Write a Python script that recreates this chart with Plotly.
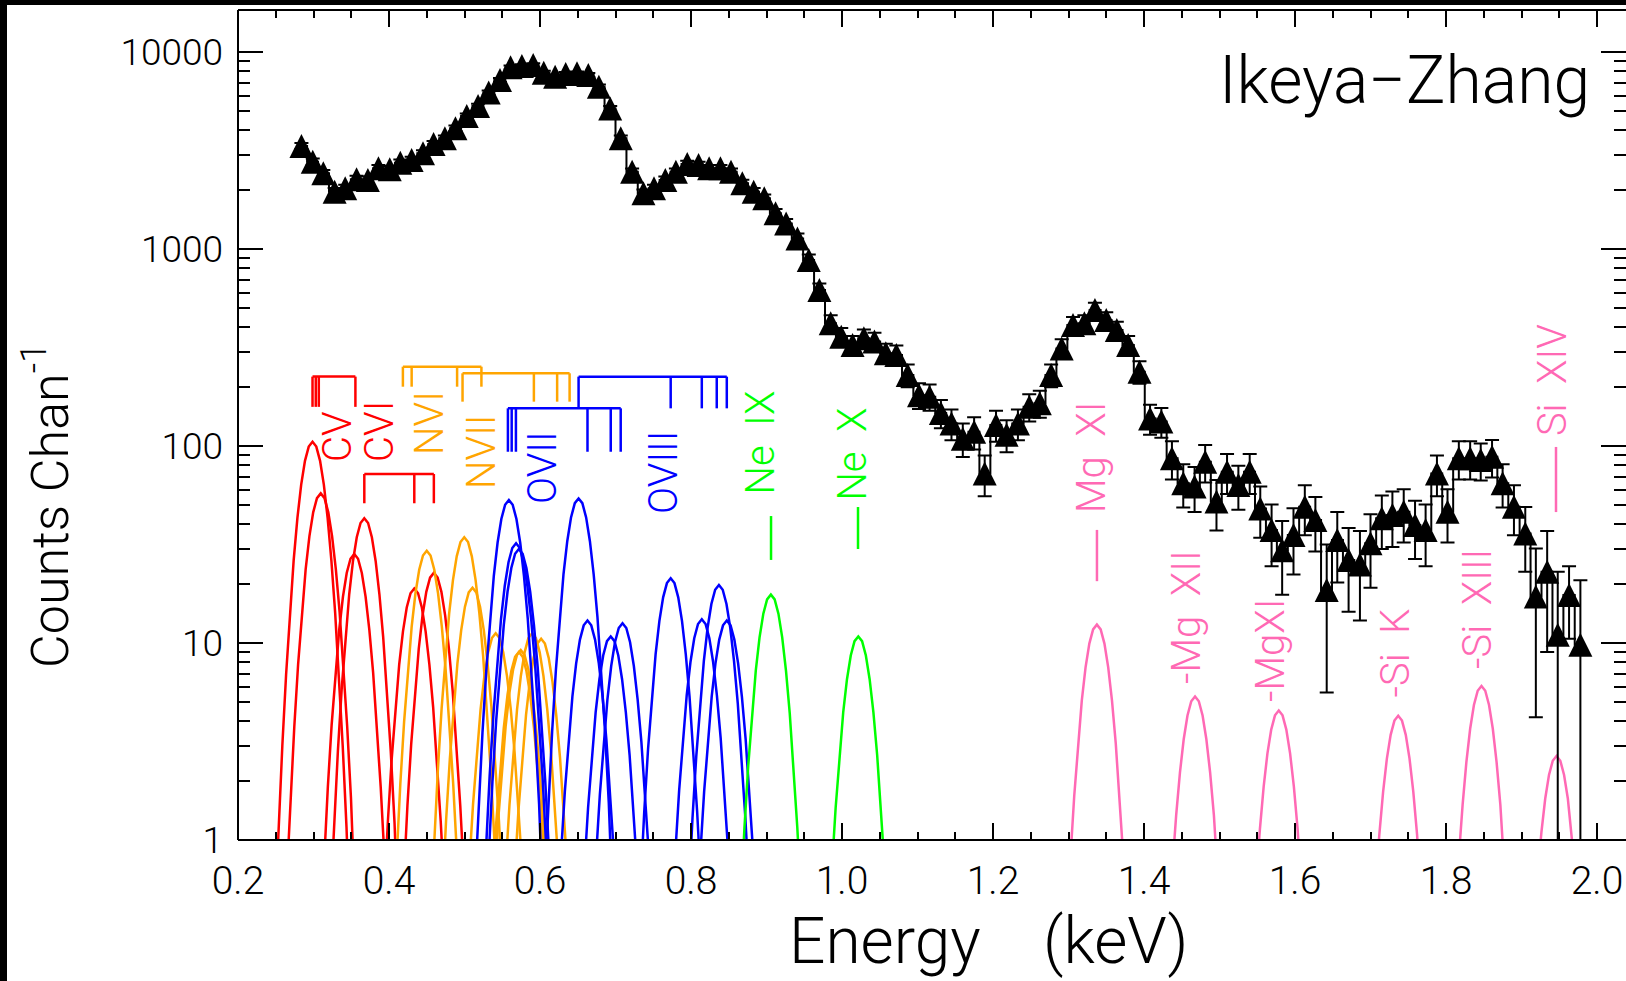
import numpy as np
import plotly.graph_objects as go

energy = [0.284, 0.299, 0.313, 0.328, 0.342, 0.357, 0.372, 0.386, 0.401, 0.415,
          0.430, 0.445, 0.459, 0.474, 0.488, 0.503, 0.518, 0.532, 0.547, 0.561,
          0.576, 0.591, 0.605, 0.620, 0.634, 0.649, 0.664, 0.678, 0.693, 0.707,
          0.722, 0.737, 0.751, 0.766, 0.780, 0.795, 0.810, 0.824, 0.839, 0.853,
          0.868, 0.883, 0.897, 0.912, 0.926, 0.941, 0.956, 0.970, 0.985, 0.999,
          1.014, 1.029, 1.043, 1.058, 1.072, 1.087, 1.102, 1.116, 1.131, 1.145,
          1.160, 1.175, 1.189, 1.204, 1.218, 1.233, 1.248, 1.262, 1.277, 1.291,
          1.306, 1.321, 1.335, 1.350, 1.364, 1.379, 1.394, 1.408, 1.423, 1.437,
          1.452, 1.467, 1.481, 1.496, 1.510, 1.525, 1.540, 1.554, 1.569, 1.583,
          1.598, 1.613, 1.627, 1.642, 1.656, 1.671, 1.686, 1.700, 1.715, 1.729,
          1.744, 1.759, 1.773, 1.788, 1.802, 1.817, 1.832, 1.846, 1.861, 1.875,
          1.890, 1.905, 1.919, 1.934, 1.948, 1.963, 1.978]
counts = [3336, 2775, 2422, 1954, 2032, 2259, 2240, 2570, 2537, 2742,
          2831, 3062, 3413, 3647, 4102, 4731, 5320, 6222, 7211, 8357,
          8490, 8590, 7855, 7490, 7730, 7790, 7640, 6670, 5170, 3647,
          2467, 1916, 2032, 2240, 2467, 2700, 2667, 2570, 2570, 2467,
          2155, 1954, 1808, 1517, 1349, 1132, 879, 619, 420, 359,
          326, 352, 339, 296, 290, 229, 181, 178, 147, 130,
          109, 118, 72.6, 128, 114, 130, 158, 165, 229, 313,
          411, 420, 490, 436, 388, 326, 238, 138, 133, 86.6,
          64.7, 62.2, 83.3, 52.2, 74, 63.4, 74, 48.2, 37.5, 29.6,
          35.3, 49.2, 42.1, 18.6, 33.3, 26.4, 25.0, 32.1, 43.0, 44.7,
          46.4, 39.7, 37.5, 72.6, 46.4, 86.6, 86.6, 84.9, 88.3, 64.7,
          49.2, 36.0, 17.2, 23.0, 11.0, 17.5, 9.8]
count_err = [115, 105, 98, 88, 90, 95, 95, 101, 101, 105,
             106, 111, 117, 121, 128, 138, 146, 158, 170, 183,
             184, 185, 177, 173, 176, 177, 175, 163, 144, 121,
             99, 88, 90, 95, 99, 104, 103, 101, 101, 99,
             93, 88, 85, 78, 73, 67, 59, 50, 41, 38,
             36, 38, 37, 34, 34, 30, 27, 27, 24, 23,
             21, 22, 17, 23, 21, 23, 25, 26, 30, 35,
             41, 41, 44, 42, 39, 36, 31, 24, 23, 19,
             16, 16, 18, 15, 17, 16, 17, 14, 13, 12,
             13, 14, 13, 13, 13, 12, 12, 13, 13, 14,
             14, 13, 13, 17, 14, 19, 19, 18, 19, 16,
             14, 13, 13, 14, 12, 7, 11]

# ---------------- model line components (centre keV, peak counts) ----------------
red_e = [0.2987, 0.3096, 0.3540, 0.3673, 0.4335, 0.4594]
red_a = [105, 57.5, 28.3, 43.0, 18.9, 22.7]
orange_e = [0.4500, 0.4997, 0.5106, 0.5413, 0.5720, 0.5745, 0.5896, 0.6015]
orange_a = [29.4, 34.4, 19.1, 11.2, 9.0, 9.2, 11.2, 10.5]
blue_e = [0.5588, 0.5683, 0.5720, 0.6511, 0.6629, 0.6937, 0.7093, 0.7731, 0.8143, 0.8370, 0.8474]
blue_a = [53.2, 32.1, 30.0, 54.2, 13.0, 10.8, 12.6, 21.3, 13.2, 19.7, 13.0]
green_e = [0.9058, 1.0216]
green_a = [17.6, 10.8]
pink_e = [1.3376, 1.4676, 1.5785, 1.7367, 1.8470, 1.9464]
pink_a = [12.4, 5.35, 4.54, 4.27, 6.05, 2.67]
line_sigma = 0.015

# ---------------- line-identification brackets ----------------
# (colour, bar level, drop level, drop energies)
brackets = [
    ("#ff0000", 225, 158, [0.2987, 0.3030, 0.3070, 0.3555]),
    ("#ff0000", 72.1, 51.2, [0.3673, 0.4335, 0.4594]),
    ("#ffa500", 252.7, 200, [0.4184, 0.4300, 0.4902, 0.5224]),
    ("#ffa500", 233.9, 167.9, [0.4974, 0.5919, 0.6227, 0.6392]),
    ("#0000ff", 155.3, 93.5, [0.5575, 0.5625, 0.5681, 0.6629, 0.6937, 0.7069]),
    ("#0000ff", 224.9, 155.3, [0.6511, 0.7731, 0.8143, 0.8341, 0.8474]),
]
# long marker dashes (colour, energy, low, high)
dashes = [
    ("#00ff00", 0.9060, 26.4, 44.1),
    ("#00ff00", 1.0212, 30.0, 49.0),
    ("#ff69b4", 1.3377, 20.6, 37.5),
    ("#ff69b4", 1.9457, 46.2, 98.9),
]
# labels (text, colour, energy, counts at centre)
labels = [
    ("CV", "#ff0000", 0.3311, 112.4),
    ("CVI", "#ff0000", 0.3881, 117.8),
    ("NVI", "#ffa500", 0.4543, 130.9),
    ("NVII", "#ffa500", 0.5232, 93.3),
    ("OVII", "#0000ff", 0.6026, 78.2),
    ("OVIII", "#0000ff", 0.7642, 73.8),
    ("Ne\u00a0\u00a0IX", "#00ff00", 0.8920, 104.7),
    ("Ne\u00a0\u00a0X", "#00ff00", 1.0139, 91.0),
    ("Mg\u00a0\u00a0XI", "#ff69b4", 1.3298, 86.9),
    ("-Mg\u00a0\u00a0XII", "#ff69b4", 1.4556, 13.55),
    ("-MgXI", "#ff69b4", 1.5669, 9.1),
    ("-Si\u00a0\u00a0K", "#ff69b4", 1.7331, 8.9),
    ("-Si\u00a0\u00a0XIII", "#ff69b4", 1.8424, 14.9),
    ("Si\u00a0\u00a0XIV", "#ff69b4", 1.9404, 216.0),
]

FONT = "Roboto"

fig = go.Figure()

def model_trace(es, amps, color):
    xs, ys = [], []
    for e0, a in zip(es, amps):
        ee = np.arange(e0 - 0.07, e0 + 0.0701, 0.005)
        yy = a * np.exp(-0.5 * ((ee - e0) / line_sigma) ** 2)
        xs += list(ee) + [None]
        ys += list(yy) + [None]
    fig.add_trace(go.Scatter(x=xs, y=ys, mode="lines", line=dict(color=color, width=2.5),
                             hoverinfo="skip", showlegend=False))

model_trace(red_e, red_a, "#ff0000")
model_trace(orange_e, orange_a, "#ffa500")
model_trace(blue_e, blue_a, "#0000ff")
model_trace(green_e, green_a, "#00ff00")
model_trace(pink_e, pink_a, "#ff69b4")

for color, bar, drop, es in brackets:
    xs = [es[0], es[-1], None]
    ys = [bar, bar, None]
    for e in es:
        xs += [e, e, None]
        ys += [bar, drop, None]
    fig.add_trace(go.Scatter(x=xs, y=ys, mode="lines", line=dict(color=color, width=2.5),
                             hoverinfo="skip", showlegend=False))

for color, e, lo, hi in dashes:
    fig.add_trace(go.Scatter(x=[e, e], y=[lo, hi], mode="lines", line=dict(color=color, width=2.5),
                             hoverinfo="skip", showlegend=False))

# histogram line
fig.add_trace(go.Scatter(x=energy, y=counts, mode="lines", line=dict(color="black", width=2, shape="hvh"),
                         hoverinfo="skip", showlegend=False))
# data points with error bars
fig.add_trace(go.Scatter(x=energy, y=counts, mode="markers",
                         marker=dict(symbol="arrow-down", size=24, angle=180, standoff=12,
                                     color="black", line=dict(width=0)),
                         error_y=dict(type="data", array=count_err, color="black", thickness=2, width=7),
                         showlegend=False))

for text, color, e, c in labels:
    fig.add_annotation(x=e, y=float(np.log10(c)), text=text, textangle=-90, showarrow=False,
                       xanchor="center", yanchor="middle",
                       font=dict(family=FONT, size=40, color=color, weight=300))

W, H = 1626, 981
L, R, T, B = 238, 0, 10, 141
pw, ph = W - L - R, H - T - B

def px(xp):
    return (xp - L) / pw

def py(yp):
    return (H - B - yp) / ph

fig.add_annotation(xref="paper", yref="paper", x=px(1592), y=py(80), text="Ikeya\u2212Zhang",
                   showarrow=False, xanchor="right", yanchor="middle",
                   font=dict(family=FONT, size=66, color="black", weight=300))
fig.add_annotation(xref="paper", yref="paper", x=px(988), y=py(941),
                   text="Energy\u00a0\u00a0\u00a0\u00a0(keV)", showarrow=False,
                   xanchor="center", yanchor="middle", borderpad=0,
                   font=dict(family=FONT, size=64, color="black", weight=300))
fig.add_annotation(xref="paper", yref="paper", x=px(46), y=py(505),
                   text="Counts Chan<sup>-1</sup>", textangle=-90, showarrow=False,
                   xanchor="center", yanchor="middle",
                   font=dict(family=FONT, size=52, color="black", weight=300))

# frame lines (left, bottom, top) and black page edges
for x0, y0, x1, y1 in [(0, 0, 0, 1), (0, 0, 1, 0), (0, 1, 1, 1)]:
    fig.add_shape(type="line", xref="paper", yref="paper", x0=x0, y0=y0, x1=x1, y1=y1,
                  line=dict(color="black", width=2))
fig.add_shape(type="rect", xref="paper", yref="paper", x0=px(-5), x1=px(7), y0=py(990), y1=py(-5),
              fillcolor="black", line=dict(width=0))
fig.add_shape(type="rect", xref="paper", yref="paper", x0=px(-5), x1=px(1640), y0=py(5), y1=py(-5),
              fillcolor="black", line=dict(width=0))

minor_y = [m * 10 ** d for d in range(0, 5) for m in range(2, 10)]

fig.update_layout(
    width=W, height=H, margin=dict(l=L, r=R, t=T, b=B),
    paper_bgcolor="white", plot_bgcolor="white",
    xaxis=dict(range=[0.2, 0.2 + pw / 755.0], tickmode="array",
               tickvals=[0.2, 0.4, 0.6, 0.8, 1.0, 1.2, 1.4, 1.6, 1.8, 2.0],
               ticktext=["0.2", "0.4", "0.6", "0.8", "1.0", "1.2", "1.4", "1.6", "1.8", "2.0"],
               ticks="inside", ticklen=17, tickwidth=2, tickcolor="black",
               minor=dict(ticks="inside", ticklen=8, tickwidth=2, tickcolor="black", dtick=0.05, tick0=0.2),
               showline=False, mirror="allticks", showgrid=False, zeroline=False,
               ticklabelstandoff=14,
               tickfont=dict(family=FONT, size=39, color="black", weight=300)),
    yaxis=dict(type="log", range=[0, 830 / 197.0], tickmode="array",
               tickvals=[1, 10, 100, 1000, 10000], ticktext=["1", "10", "100", "1000", "10000"],
               ticks="inside", ticklen=25, tickwidth=2, tickcolor="black",
               minor=dict(ticks="inside", ticklen=12, tickwidth=2, tickcolor="black",
                          tickmode="array", tickvals=minor_y),
               showline=False, mirror="allticks", showgrid=False, zeroline=False,
               ticklabelstandoff=14,
               tickfont=dict(family=FONT, size=37, color="black", weight=300)),
)

fig.write_html("out.html")
